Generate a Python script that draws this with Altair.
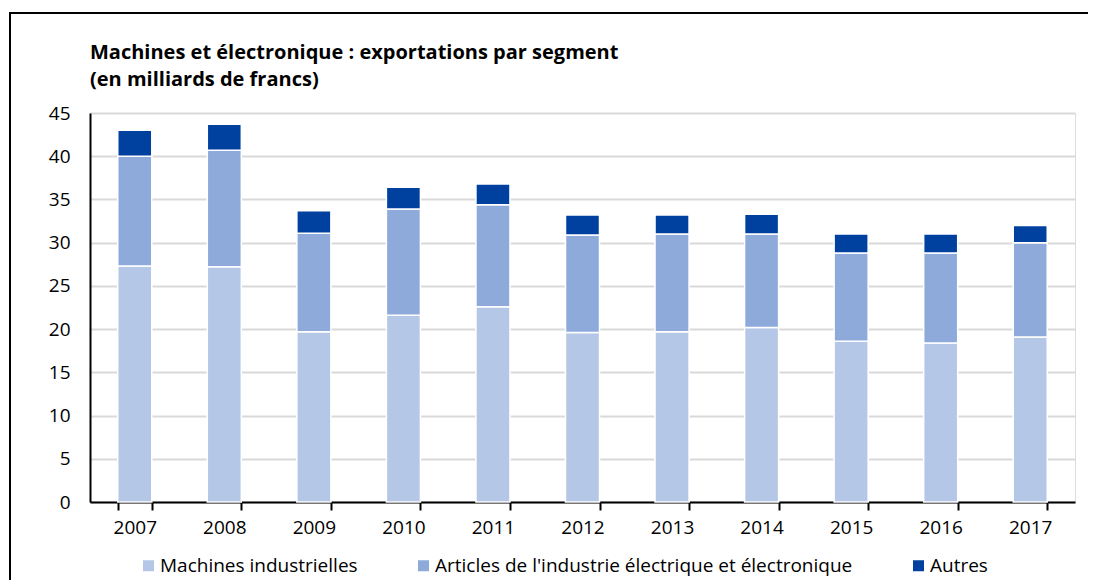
import altair as alt
import pandas as pd

years = ["2007", "2008", "2009", "2010", "2011", "2012", "2013", "2014", "2015", "2016", "2017"]
machines = [27.3, 27.2, 19.7, 21.6, 22.6, 19.6, 19.7, 20.2, 18.6, 18.4, 19.1]
electrique = [12.7, 13.5, 11.4, 12.3, 11.8, 11.3, 11.3, 10.8, 10.2, 10.4, 10.9]
autres = [3.0, 3.0, 2.6, 2.5, 2.4, 2.3, 2.2, 2.3, 2.2, 2.2, 2.0]

series = ["Machines industrielles",
          "Articles de l'industrie électrique et électronique",
          "Autres"]
colors = ["#b4c7e7", "#8eaadb", "#0041a0"]

title_lines = ["Machines et électronique : exportations par segment",
               "(en milliards de francs)"]

rows = []
for i, y in enumerate(years):
    for k, (name, vals) in enumerate(zip(series, [machines, electrique, autres])):
        rows.append({"Année": y, "Segment": name, "Valeur": vals[i], "ordre": k})
df = pd.DataFrame(rows)

FONT = "Open Sans"
FS = 19

bars = alt.Chart(df).mark_bar(stroke="white", strokeWidth=1.5).encode(
    x=alt.X("Année:N", sort=years,
            scale=alt.Scale(paddingInner=0.62, paddingOuter=0.31),
            axis=alt.Axis(title=None, labelAngle=0, tickBand="extent", tickSize=8,
                          tickColor="black", tickWidth=2, domainColor="black",
                          domainWidth=2, labelPadding=8, labelFontSize=FS,
                          labelColor="black", labelFont=FONT, grid=False)),
    y=alt.Y("Valeur:Q", stack="zero",
            scale=alt.Scale(domain=[0, 45], nice=False),
            axis=alt.Axis(title=None, values=list(range(0, 50, 5)), ticks=False,
                          domainColor="black", domainWidth=2, labelPadding=20,
                          labelFontSize=FS, labelColor="black", labelFont=FONT,
                          gridColor="#d9d9d9", gridWidth=2)),
    color=alt.Color("Segment:N", sort=series,
                    scale=alt.Scale(domain=series, range=colors),
                    legend=alt.Legend(title=None, orient="none", direction="horizontal",
                                      legendX=49, legendY=443, symbolType="square",
                                      symbolSize=121, symbolStrokeWidth=0,
                                      labelFontSize=FS, labelFont=FONT, labelColor="black",
                                      labelLimit=0, labelOffset=2, columnPadding=56,
                                      padding=0)),
    order=alt.Order("ordre:Q", sort="ascending"),
)

frame = alt.Chart(pd.DataFrame({"f": [0]})).mark_rect(
    fillOpacity=0, stroke="black", strokeWidth=2, clip=False
).encode(x=alt.value(-80), x2=alt.value(1200), y=alt.value(-100), y2=alt.value(800))

title1 = alt.Chart(pd.DataFrame({"t": [title_lines[0]]})).mark_text(
    align="left", baseline="alphabetic", font=FONT, fontSize=20, fontWeight="bold",
    color="black", clip=False
).encode(text="t:N", x=alt.value(0), y=alt.value(-54))

title2 = alt.Chart(pd.DataFrame({"t": [title_lines[1]]})).mark_text(
    align="left", baseline="alphabetic", font=FONT, fontSize=20, fontWeight="bold",
    color="black", clip=False
).encode(text="t:N", x=alt.value(0), y=alt.value(-27))

chart = alt.layer(bars, frame, title1, title2).properties(
    width=985, height=389,
    autosize=alt.AutoSizeParams(type="none"),
    padding={"left": 82, "top": 105, "right": 13, "bottom": 78},
).configure_view(stroke=None).configure(background="white")

chart.save("out.html", embed_options={"renderer": "svg", "actions": False})
